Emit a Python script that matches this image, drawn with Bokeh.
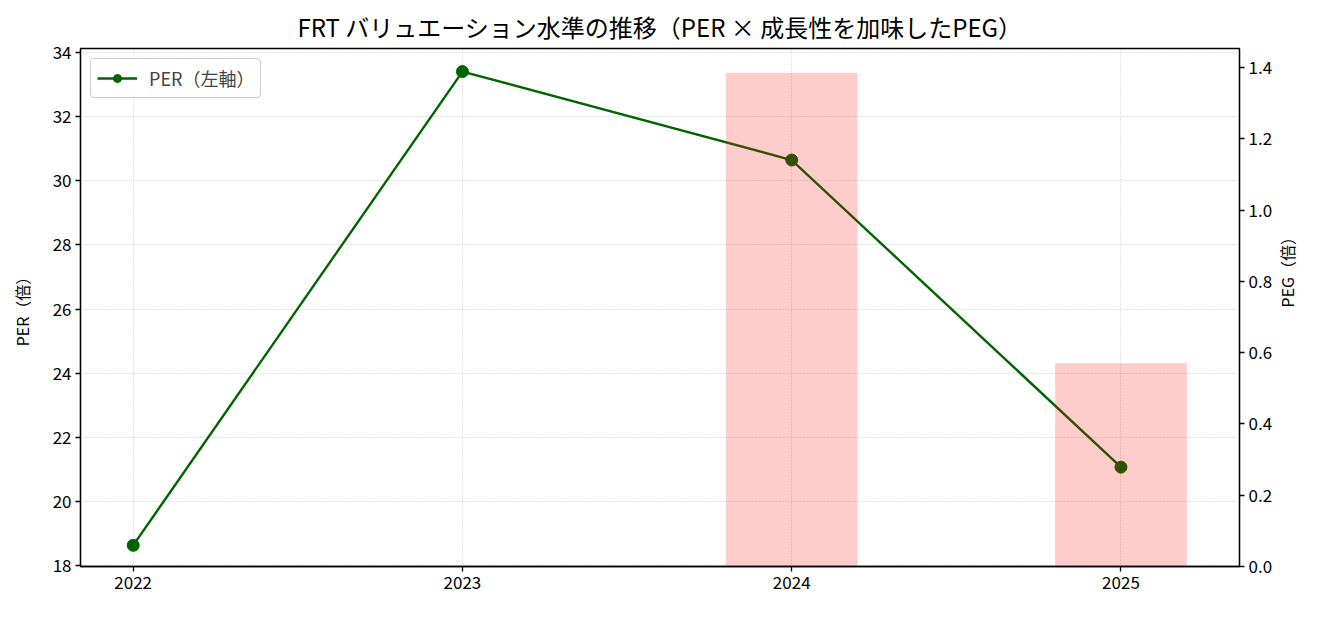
import math
from bokeh.plotting import figure
from bokeh.models import Range1d, LinearAxis, Legend, LegendItem, PrintfTickFormatter, FixedTicker
from bokeh.embed import file_html
from bokeh.resources import INLINE

years = [2022, 2023, 2024, 2025]
per = [18.63, 33.41, 30.65, 21.07]
peg_years = [2024, 2025]
peg = [1.385, 0.57]

FONT = "Noto Sans CJK JP"

p = figure(width=1314, height=601, output_backend="svg", toolbar_location=None,
           x_range=Range1d(2021.84, 2025.36), y_range=Range1d(17.97, 34.13),
           min_border_left=80, min_border_right=72, min_border_top=48, min_border_bottom=35)
p.extra_y_ranges = {"peg": Range1d(0, 1.4533)}

p.title.text = "FRT バリュエーション水準の推移（PER × 成長性を加味したPEG）"
p.title.align = "center"
p.title.text_font = FONT
p.title.text_font_size = "24px"
p.title.text_font_style = "normal"
p.title.text_color = "black"

p.outline_line_color = "black"
p.outline_line_width = 1.3
p.outline_line_alpha = 1

for g in (p.xgrid, p.ygrid):
    g.grid_line_color = "#bbbbbb"
    g.grid_line_dash = "1 2"
    g.grid_line_width = 1
    g.grid_line_alpha = 0.8

p.xaxis.ticker = FixedTicker(ticks=years)
p.yaxis.ticker = FixedTicker(ticks=[18, 20, 22, 24, 26, 28, 30, 32, 34])
p.yaxis.axis_label = "PER（倍）"

r_axis = LinearAxis(y_range_name="peg", axis_label="PEG（倍）",
                    ticker=FixedTicker(ticks=[0, 0.2, 0.4, 0.6, 0.8, 1.0, 1.2, 1.4]),
                    formatter=PrintfTickFormatter(format="%.1f"))
p.add_layout(r_axis, "right")

for ax in (p.xaxis[0], p.yaxis[0], r_axis):
    ax.major_label_text_font = FONT
    ax.major_label_text_font_size = "17px"
    ax.major_label_text_color = "black"
    ax.axis_label_text_font = FONT
    ax.axis_label_text_font_size = "16px"
    ax.axis_label_text_font_style = "normal"
    ax.axis_label_text_color = "black"
    ax.minor_tick_line_color = None
    ax.major_tick_out = 5
    ax.major_tick_in = 0
    ax.major_tick_line_color = "black"
    ax.major_tick_line_width = 1.3
    ax.axis_line_color = "black"
    ax.axis_line_width = 1.3
    ax.major_label_standoff = 4

p.yaxis[0].axis_label_standoff = 16
r_axis.axis_label_standoff = 12
r_axis.axis_label_orientation = math.pi / 2

line = p.line(years, per, line_color="#006400", line_width=2.4)
pts = p.scatter(years, per, size=12, fill_color="#006400", line_color="#006400")

p.vbar(x=peg_years, top=peg, bottom=0, width=0.4, y_range_name="peg",
       fill_color="red", fill_alpha=0.2, line_color=None)

legend = Legend(items=[LegendItem(label="PER（左軸）", renderers=[line, pts])],
                location="top_left")
legend.label_text_font = FONT
legend.label_text_font_size = "18px"
legend.border_line_color = "#cccccc"
legend.border_line_alpha = 1
legend.border_radius = 4
legend.background_fill_alpha = 0.8
legend.margin = 10
legend.padding = 6
legend.glyph_width = 40
legend.label_standoff = 12
legend.spacing = 0
p.add_layout(legend)

open("out.html", "w").write(file_html(p, INLINE))
